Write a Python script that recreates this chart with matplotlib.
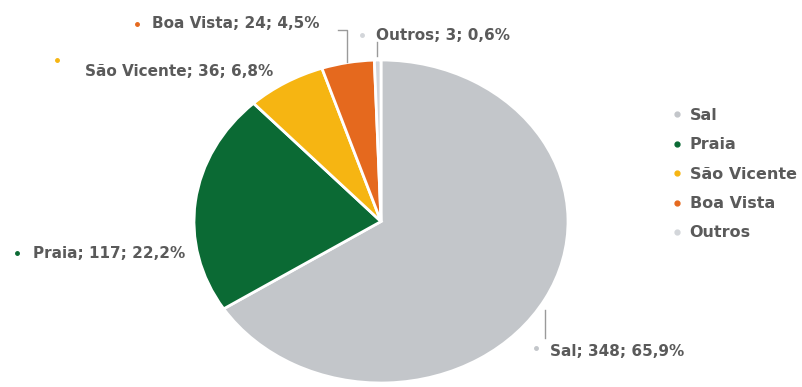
import matplotlib
matplotlib.use("Agg")
import matplotlib.pyplot as plt
from matplotlib.lines import Line2D

# Passenger distribution by island
categories = ["Sal", "Praia", "São Vicente", "Boa Vista", "Outros"]
values = [348, 117, 36, 24, 3]
percent_labels = ["65,9%", "22,2%", "6,8%", "4,5%", "0,6%"]
colors = ["#c3c6ca", "#0b6a34", "#f6b512", "#e5691e", "#d3d6da"]

W, H = 802, 387
fig = plt.figure(figsize=(W / 100, H / 100), dpi=100)
fig.patch.set_facecolor("white")

# pie area in pixel units (left, top, right, bottom)
pl, pt, pr, pb = 194, 60, 568, 383
ax = fig.add_axes([pl / W, 1 - pb / H, (pr - pl) / W, (pb - pt) / H])
ax.pie(values, colors=colors, startangle=90, counterclock=False,
       wedgeprops=dict(edgecolor="white", linewidth=2))
ax.set_aspect("auto")
ax.set_xlim(-1, 1)
ax.set_ylim(-1, 1)

# overlay axes in pixel coordinates for labels and leader lines
ov = fig.add_axes([0, 0, 1, 1])
ov.set_xlim(0, W)
ov.set_ylim(H, 0)
ov.axis("off")
ov.patch.set_alpha(0)

text_color = "#5a5a5a"
label_pos = {
    "Sal": ((550, 351), (536, 348)),
    "Praia": ((33, 253), (17, 253)),
    "São Vicente": ((85, 71), (57, 60)),
    "Boa Vista": ((152, 24), (137, 24)),
    "Outros": ((376, 35), (362, 35)),
}
for cat, val, pct, col in zip(categories, values, percent_labels, colors):
    (tx, ty), (mx, my) = label_pos[cat]
    ov.text(tx, ty, f"{cat}; {val}; {pct}", fontsize=11, fontweight="bold",
            color=text_color, ha="left", va="center")
    ov.plot(mx, my, marker="o", markersize=2.5, color=col, linestyle="none")

# leader lines
ov.plot([338, 347, 347], [30, 30, 62], color="#9a9a9a", linewidth=1)
ov.plot([377, 377], [42, 56], color="#9a9a9a", linewidth=1)
ov.plot([545, 545], [310, 338], color="#9a9a9a", linewidth=1)

# legend
handles = [Line2D([0], [0], marker="o", linestyle="none", markersize=3.5,
                  markerfacecolor=c, markeredgecolor=c) for c in colors]
leg = fig.legend(handles, categories, loc="upper left",
                 bbox_to_anchor=(664 / W, 1 - 100 / H), frameon=False,
                 fontsize=11.5, labelspacing=0.9, handlelength=0.6,
                 handletextpad=0.5, borderpad=0)
for t in leg.get_texts():
    t.set_color(text_color)
    t.set_fontweight("bold")

fig.savefig("out.png", dpi=100, facecolor="white")
